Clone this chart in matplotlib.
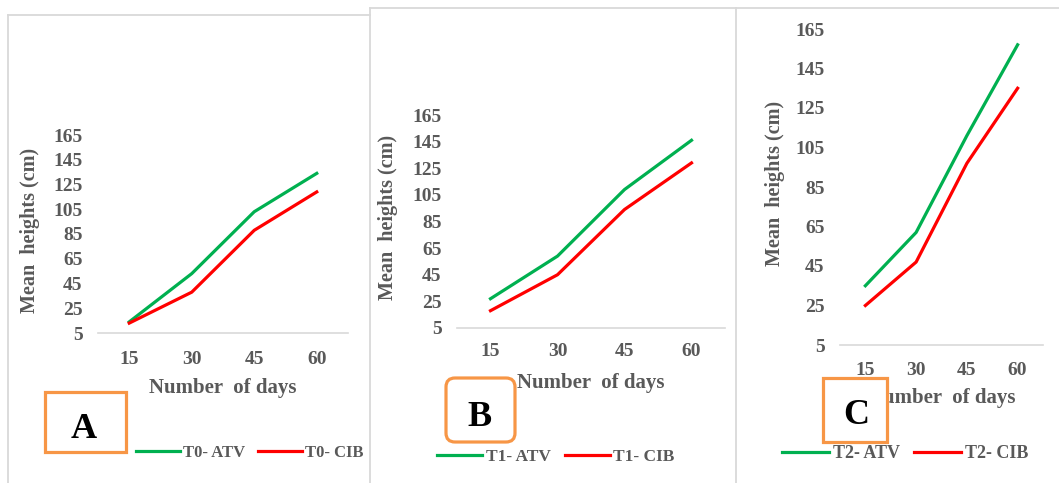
import matplotlib
matplotlib.use('Agg')
import matplotlib.pyplot as plt
import matplotlib.transforms as mtransforms
from matplotlib.patches import Rectangle, FancyBboxPatch
from matplotlib.lines import Line2D

# Data (mean plant height, cm)
days = ['15', '30', '45', '60']
t0_atv = [14, 53, 103, 134]
t0_cib = [13, 38, 88, 119]
t1_atv = [27, 59, 109, 146]
t1_cib = [18, 45, 94, 129]
t2_atv = [35, 62, 111, 157]
t2_cib = [25, 47, 97, 135]
y_ticks = [5, 25, 45, 65, 85, 105, 125, 145, 165]

W, H = 1059, 483
plt.rcParams['font.family'] = ['Liberation Serif', 'DejaVu Serif']
fig = plt.figure(figsize=(W / 100, H / 100), dpi=100)
fig.patch.set_facecolor('white')

# pixel coordinates measured from the top-left corner
px = mtransforms.Affine2D().scale(1, -1).translate(0, H)
# plain pixel coordinates from the bottom-left corner (for the rounded box)
disp = mtransforms.IdentityTransform()

grey = '#595959'
green = '#00B050'
red = '#FF0000'
orange = '#F79646'
frame = '#D9D9D9'

# panel frames
for xs, ys in [([8, 8], [483, 15]), ([8, 370], [15, 15]), ([370, 370], [8, 483]),
               ([370, 1059], [8, 8]), ([736, 736], [8, 483])]:
    fig.add_artist(Line2D(xs, ys, transform=px, color=frame, lw=1.3))

# (y-label x, x-label y) per panel
ylab_pos = {'A': (30, 388), 'B': (388, 383), 'C': (775, 398)}


def make_panel(left, right, top, bottom, atv, cib, names, leg_xy, leg_fs, letter, box, rounded, letter_xy, xpad):
    ax = fig.add_axes([left / W, (H - bottom) / H, (right - left) / W, (bottom - top) / H])
    x = range(len(days))
    ax.plot(x, atv, color=green, lw=2.3, label=names[0])
    ax.plot(x, cib, color=red, lw=2.3, label=names[1])
    ax.set_xlim(-0.5, len(days) - 0.5)
    ax.set_ylim(5, 165)
    ax.set_yticks(y_ticks)
    ax.set_xticks(list(x))
    ax.set_xticklabels(days)
    for s in ['top', 'right', 'left']:
        ax.spines[s].set_visible(False)
    ax.spines['bottom'].set_color(frame)
    ax.spines['bottom'].set_linewidth(1.2)
    ax.tick_params(length=0, labelsize=14, labelcolor=grey)
    ax.tick_params(axis='y', pad=11)
    ax.tick_params(axis='x', pad=xpad)
    for lab in ax.get_xticklabels() + ax.get_yticklabels():
        lab.set_fontweight('bold')
    ax.patch.set_alpha(0)

    cx = (left + right) / 2
    fig.text(cx, ylab_pos[letter][1], 'Number  of days', transform=px, ha='center', va='center',
             fontsize=15, fontweight='bold', color=grey, zorder=2)
    fig.text(ylab_pos[letter][0], (top + bottom) / 2 - 4, 'Mean  heights (cm)', transform=px, rotation=90,
             ha='center', va='center', fontsize=14.5, fontweight='bold', color=grey)

    leg = ax.legend(loc='center', bbox_to_anchor=leg_xy, bbox_transform=px, ncol=2, frameon=False,
                    handlelength=2.6, handletextpad=0.2, columnspacing=0.8, prop={'size': leg_fs, 'weight': 'bold'})
    for t in leg.get_texts():
        t.set_color(grey)

    bx0, by0, bx1, by1 = box
    if rounded:
        r = 9
        patch = FancyBboxPatch((bx0 + r, H - by1 + r), bx1 - bx0 - 2 * r, by1 - by0 - 2 * r,
                               boxstyle='round,pad=%d' % r, transform=disp,
                               facecolor='white', edgecolor=orange, lw=2.3, zorder=5)
    else:
        patch = Rectangle((bx0, by1), bx1 - bx0, by0 - by1, transform=px, facecolor='white',
                          edgecolor=orange, lw=2.3, zorder=5)
    fig.add_artist(patch)
    fig.text(letter_xy[0], letter_xy[1], letter, transform=px, ha='center', va='center',
             fontsize=26, fontweight='bold', color='black', zorder=6)
    return ax


make_panel(98, 348, 135, 333, t0_atv, t0_cib, ['T0- ATV', 'T0- CIB'], (250, 453), 12,
           'A', (45, 392, 126, 452), False, (84, 429), 13)
make_panel(457, 725, 115, 328, t1_atv, t1_cib, ['T1- ATV', 'T1- CIB'], (556, 457), 12.5,
           'B', (446, 378, 515, 442), True, (480, 417), 11)
make_panel(840, 1043, 29, 345, t2_atv, t2_cib, ['T2- ATV', 'T2- CIB'], (905, 454), 13,
           'C', (823, 378, 887, 442), False, (856, 415), 12)

fig.savefig('out.png', dpi=100, facecolor='white')
